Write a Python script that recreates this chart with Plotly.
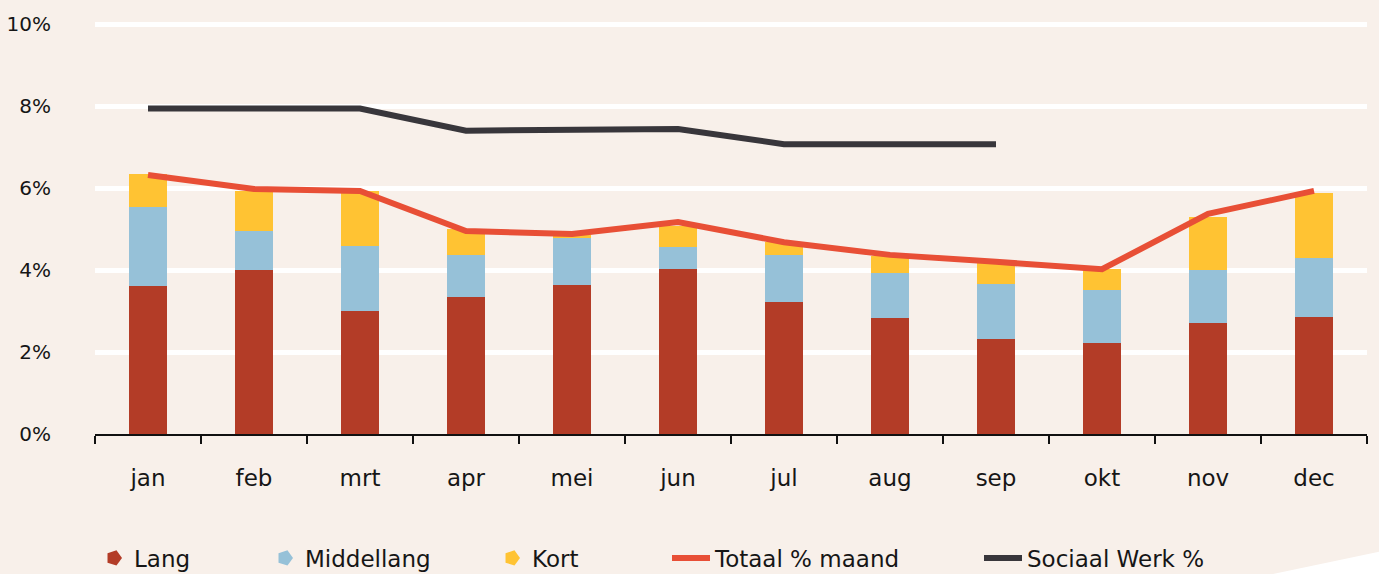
import plotly.graph_objects as go

months = ["jan", "feb", "mrt", "apr", "mei", "jun", "jul", "aug", "sep", "okt", "nov", "dec"]
lang = [3.61, 4.00, 3.00, 3.34, 3.63, 4.02, 3.22, 2.83, 2.32, 2.22, 2.71, 2.85]
middellang = [1.93, 0.95, 1.59, 1.03, 1.16, 0.54, 1.15, 1.10, 1.34, 1.30, 1.29, 1.44]
kort = [0.80, 0.98, 1.34, 0.63, 0.06, 0.51, 0.32, 0.41, 0.51, 0.50, 1.29, 1.59]
totaal = [6.32, 5.98, 5.93, 4.95, 4.88, 5.17, 4.68, 4.37, 4.20, 4.02, 5.37, 5.93]
sociaal_werk = [7.94, 7.94, 7.94, 7.40, 7.42, 7.44, 7.07, 7.07, 7.07, None, None, None]
y_ticks = [0, 2, 4, 6, 8, 10]
y_tick_labels = ["0%", "2%", "4%", "6%", "8%", "10%"]

BG = "#f8f0ea"
C_LANG = "#b33c27"
C_MID = "#96c1d8"
C_KORT = "#ffc333"
C_TOT = "#e84f36"
C_SW = "#38363b"
FONT = "DejaVu Sans, Liberation Sans, Arial, sans-serif"
TXT = "#161616"

W, H = 1379, 574
Y_MAX = 10.1
ML, MR, MB = 95, 12, 140
MT = round(H - MB - 41.0 * Y_MAX)
PW = W - ML - MR
PH = H - MT - MB


def px_x(p):
    return (p - ML) / PW


def px_y(p):
    return (H - MB - p) / PH


fig = go.Figure()

for name, vals, col in [("Lang", lang, C_LANG), ("Middellang", middellang, C_MID), ("Kort", kort, C_KORT)]:
    fig.add_trace(go.Bar(x=months, y=vals, name=name, marker=dict(color=col, line=dict(width=0)),
                         showlegend=False, legendgroup=name, hoverinfo="x+y+name"))

fig.add_trace(go.Scatter(x=months, y=totaal, name="Totaal % maand", mode="lines",
                         line=dict(color=C_TOT, width=6), legend="legend4"))
fig.add_trace(go.Scatter(x=months, y=sociaal_werk, name="Sociaal Werk %", mode="lines",
                         line=dict(color=C_SW, width=6), connectgaps=False, legend="legend5"))

# legend entries for the stacked bars (tag-shaped symbol)
for name, col, lg in [("Lang", C_LANG, "legend"), ("Middellang", C_MID, "legend2"), ("Kort", C_KORT, "legend3")]:
    fig.add_trace(go.Scatter(x=[None], y=[None], mode="markers", name=name, legendgroup=name,
                             marker=dict(symbol="pentagon", angle=90, size=16, color=col,
                                         line=dict(width=0)),
                             legend=lg))

leg_y = px_y(558)
legend_common = dict(orientation="h", yanchor="middle", y=leg_y, xanchor="left",
                     bgcolor="rgba(0,0,0,0)", font=dict(family=FONT, size=23, color=TXT),
                     borderwidth=0)
fig.update_layout(
    legend=dict(x=px_x(94), **legend_common),
    legend2=dict(x=px_x(265), **legend_common),
    legend3=dict(x=px_x(492), **legend_common),
    legend4=dict(x=px_x(667), itemwidth=38, **legend_common),
    legend5=dict(x=px_x(979), itemwidth=38, **legend_common),
)

fig.update_layout(
    width=W, height=H,
    margin=dict(l=ML, r=MR, t=MT, b=MB, autoexpand=False),
    paper_bgcolor=BG, plot_bgcolor=BG,
    barmode="stack", bargap=0.64,
    font=dict(family=FONT, size=23, color=TXT),
    xaxis=dict(type="category", categoryorder="array", categoryarray=months,
               showline=True, linecolor="#111111", linewidth=2, automargin=False,
               ticks="outside", tickson="boundaries", ticklen=8, tickwidth=2, tickcolor="#111111",
               showgrid=False, zeroline=False, ticklabelstandoff=22,
               tickfont=dict(family=FONT, size=23, color=TXT)),
    yaxis=dict(range=[0, Y_MAX], tickvals=y_ticks, ticktext=y_tick_labels, automargin=False,
               showgrid=True, gridcolor="#ffffff", gridwidth=5, zeroline=False,
               showline=False, ticks="", ticklabelstandoff=43,
               tickfont=dict(family=FONT, size=20, color=TXT)),
    shapes=[dict(type="path", xref="paper", yref="paper", layer="below",
                 path="M {} {} L {} {} L {} {} L {} {} Z".format(
                     px_x(1273), px_y(574), px_x(1395), px_y(548.4),
                     px_x(1395), px_y(580), px_x(1273), px_y(580)),
                 fillcolor="#ffffff", line=dict(width=0))],
)

fig.write_html("out.html", config={"displayModeBar": False},
               post_script="document.body.style.margin='0';document.body.style.background='" + BG + "';")
